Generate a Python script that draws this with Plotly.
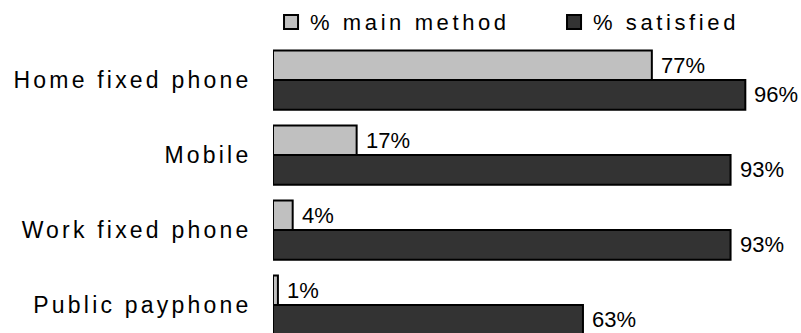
import plotly.graph_objects as go

# Phone usage survey: main contact method vs. satisfaction
categories = ["Home fixed phone", "Mobile", "Work fixed phone", "Public payphone"]
main_method = [77, 17, 4, 1]
satisfied = [96, 93, 93, 63]
series_names = ["% main method", "% satisfied"]
series_colors = ["#c0c0c0", "#333333"]

FONT = "Liberation Sans, Arial, sans-serif"
BARGAP = 0.21

fig = go.Figure()
for name, values, color in zip(series_names, [main_method, satisfied], series_colors):
    fig.add_trace(go.Bar(
        y=categories, x=values, orientation="h", name=name,
        marker=dict(color=color, line=dict(color="black", width=2)),
        hoverinfo="x+y",
    ))

# value labels just past the end of each bar
half = (1 - BARGAP) / 4
annotations = []
for i, cat in enumerate(categories):
    for values, offset in ((main_method, -half), (satisfied, half)):
        annotations.append(dict(
            x=values[i], y=i + offset, xref="x", yref="y",
            text=f"{values[i]}%", showarrow=False,
            xanchor="left", yanchor="middle", xshift=7,
            font=dict(family=FONT, size=22, color="black"),
        ))

# key above the plot: outlined swatch + series name for each series
shapes = []
key_x = [0.0224, 0.5976]          # swatch left edges (paper fraction)
swatch_w, key_y0, key_y1 = 0.0285, 1.0556, 1.104
legend_index = []
for name, color, x0 in zip(series_names, series_colors, key_x):
    shapes.append(dict(
        type="rect", xref="paper", yref="paper",
        x0=x0, x1=x0 + swatch_w, y0=key_y0, y1=key_y1,
        fillcolor=color, line=dict(color="black", width=2), layer="above",
    ))
    legend_index.append(len(annotations))
    annotations.append(dict(
        x=x0 + swatch_w + 0.02, y=(key_y0 + key_y1) / 2,
        xref="paper", yref="paper", text=name, showarrow=False,
        xanchor="left", yanchor="middle", align="left",
        font=dict(family=FONT, size=22, color="black"),
    ))

fig.update_layout(
    width=801, height=333,
    margin=dict(l=273, r=36, t=45, b=0, autoexpand=False),
    paper_bgcolor="white", plot_bgcolor="white",
    barmode="group", bargap=BARGAP, bargroupgap=0,
    font=dict(family=FONT, color="black"),
    showlegend=False,
    xaxis=dict(range=[0, 100], visible=False, fixedrange=True),
    yaxis=dict(
        type="category", range=[3.373, -0.4667], autorange=False,
        showline=False, showgrid=False, zeroline=False,
        ticks="outside", ticklen=16, tickcolor="rgba(0,0,0,0)",
        tickfont=dict(family=FONT, size=23, color="black"),
    ),
    shapes=shapes,
    annotations=annotations,
)

# wider tracking on the category labels and the key text
key_sel = ",".join('.annotation[data-index="%d"] text' % k for k in legend_index)
spacing_css = (
    "<style>"
    ".ytick text{letter-spacing:3.2px}"
    + key_sel + "{letter-spacing:3.6px}"
    "</style>"
)
post_js = "document.head.insertAdjacentHTML('beforeend', '%s');" % spacing_css

fig.write_html("out.html", post_script=post_js)
